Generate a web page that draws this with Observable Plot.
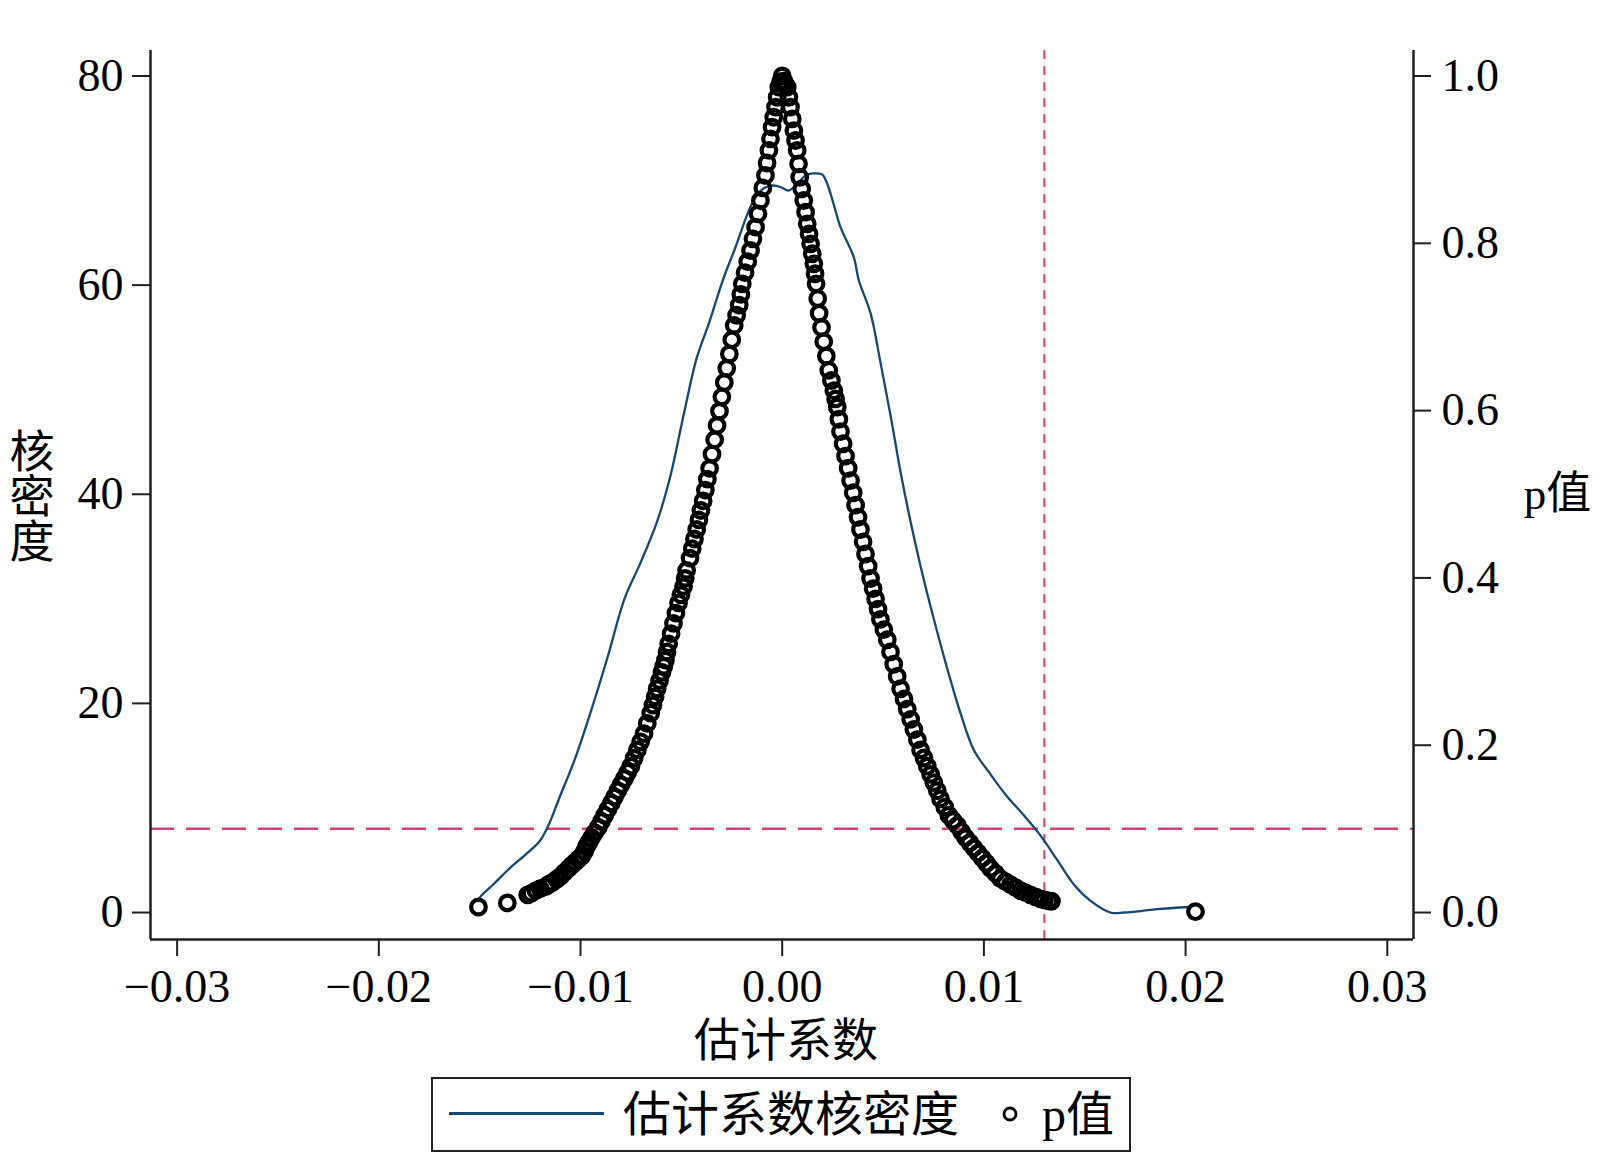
<!DOCTYPE html>
<html>
<head>
<meta charset="utf-8">
<script src="https://cdn.jsdelivr.net/npm/d3@7"></script>
<script src="https://cdn.jsdelivr.net/npm/@observablehq/plot@0.6"></script>
<style>
  body { margin: 0; background: #fff; }
  #chart svg { display: block; }
  #legend {
    position: relative; margin-left: 431px; margin-top: 7px;
    width: 700px; height: 75px; border: 2px solid #222; box-sizing: border-box;
    font-family: 'Liberation Serif', 'Noto Sans CJK SC', serif; font-size: 48px; color: #000;
  }
  #legend .lline { position: absolute; left: 16px; top: 33px; width: 155px; height: 0; border-top: 3px solid #1a476f; }
  #legend .ltext { position: absolute; left: 190px; top: 0; line-height: 71px; white-space: nowrap; }
  #legend .ldot { position: absolute; left: 567px; top: 25px; }
  #legend .ltext2 { position: absolute; left: 609px; top: 0; line-height: 71px; white-space: nowrap; }
</style>
</head>
<body>
<div id="chart"></div>
<div id="legend">
  <span class="lline"></span>
  <span class="ltext">估计系数核密度</span>
  <svg class="ldot" width="20" height="20"><circle cx="10" cy="10" r="6" fill="none" stroke="#000" stroke-width="2.8"></circle></svg>
  <span class="ltext2">p值</span>
</div>
<script>
// ---- axes / tick labels ----
const xTicks = [-0.03, -0.02, -0.01, 0, 0.01, 0.02, 0.03];
const densityTicks = [0, 20, 40, 60, 80];
const pTicks = [0, 0.2, 0.4, 0.6, 0.8, 1.0];
const xDomain = [-0.03132, 0.0313];
const densityDomain = [-2.58, 82.44];
const pScale = 80;            // p = 1.0 sits level with density 80
const pThreshold = 0.1;       // horizontal reference line
const coefMark = 0.013;       // vertical reference line

// ---- kernel density of the estimated coefficient ----
const densityCoef = [-0.01506, -0.01497, -0.01433, -0.01351, -0.01270, -0.01205, -0.01164, -0.01107, -0.01026, -0.00945,
  -0.00864, -0.00782, -0.00701, -0.00620, -0.00555, -0.00489, -0.00424, -0.00360, -0.00295, -0.00232,
  -0.00147, -0.00093, -0.00043, -0.00003, 0.00031, 0.00076, 0.00116, 0.00150, 0.00198, 0.00223,
  0.00254, 0.00289, 0.00355, 0.00380, 0.00438, 0.00487, 0.00537, 0.00587, 0.00636, 0.00686,
  0.00752, 0.00818, 0.00884, 0.00950, 0.01033, 0.01116, 0.01198, 0.01281, 0.01364, 0.01446,
  0.01529, 0.01628, 0.01694, 0.01777, 0.01859, 0.02025];
const densityValue = [1.10, 1.50, 2.68, 4.23, 5.59, 6.77, 8.13, 10.86, 14.77, 19.45,
  24.53, 29.99, 33.51, 37.41, 41.70, 47.56, 53.02, 56.54, 60.44, 63.60,
  67.90, 69.24, 69.53, 69.34, 69.05, 69.72, 70.49, 70.68, 70.58, 69.69,
  67.81, 65.54, 62.67, 60.44, 57.32, 52.64, 47.56, 42.10, 37.41, 33.12,
  28.04, 23.35, 19.06, 15.55, 13.21, 11.07, 9.31, 7.35, 5.01, 2.68,
  1.11, 0.00, 0.00, 0.13, 0.33, 0.53];

// ---- p values: [coefficient, p] ----
const pLeft = [[-0.01506, 0.0066], [-0.01363, 0.0115], [-0.01262, 0.0212], [-0.01245, 0.0230], [-0.01221, 0.0261],
  [-0.01200, 0.0285], [-0.01173, 0.0310], [-0.01158, 0.0335], [-0.01140, 0.0359], [-0.01118, 0.0398],
  [-0.01099, 0.0432], [-0.01080, 0.0480], [-0.01059, 0.0528], [-0.01043, 0.0566], [-0.01026, 0.0603],
  [-0.01010, 0.0640], [-0.00994, 0.0675], [-0.00980, 0.0730], [-0.00970, 0.0790], [-0.00958, 0.0840],
  [-0.00945, 0.0895], [-0.00930, 0.0955], [-0.00912, 0.1017], [-0.00896, 0.1090], [-0.00880, 0.1163],
  [-0.00864, 0.1236], [-0.00847, 0.1310], [-0.00831, 0.1383], [-0.00815, 0.1456], [-0.00799, 0.1529],
  [-0.00782, 0.1602], [-0.00766, 0.1676], [-0.00750, 0.1749], [-0.00734, 0.1846], [-0.00718, 0.1944],
  [-0.00702, 0.2041], [-0.00685, 0.2139], [-0.00669, 0.2261], [-0.00652, 0.2383], [-0.00641, 0.2480],
  [-0.00630, 0.2578], [-0.00620, 0.2675], [-0.00608, 0.2773], [-0.00596, 0.2871], [-0.00587, 0.2944],
  [-0.00579, 0.3017], [-0.00571, 0.3115], [-0.00563, 0.3212], [-0.00551, 0.3334], [-0.00539, 0.3456],
  [-0.00527, 0.3579], [-0.00514, 0.3701], [-0.00502, 0.3799], [-0.00489, 0.3896], [-0.00481, 0.3994],
  [-0.00474, 0.4091], [-0.00457, 0.4237], [-0.00446, 0.4351], [-0.00435, 0.4465], [-0.00424, 0.4579],
  [-0.00413, 0.4693], [-0.00403, 0.4806], [-0.00392, 0.4920], [-0.00381, 0.5050], [-0.00371, 0.5180],
  [-0.00360, 0.5310], [-0.00348, 0.5481], [-0.00335, 0.5652], [-0.00323, 0.5823], [-0.00311, 0.5994],
  [-0.00299, 0.6165], [-0.00287, 0.6336], [-0.00275, 0.6506], [-0.00262, 0.6677], [-0.00250, 0.6848],
  [-0.00238, 0.7019], [-0.00226, 0.7140], [-0.00213, 0.7262], [-0.00205, 0.7389], [-0.00198, 0.7516],
  [-0.00184, 0.7649], [-0.00171, 0.7781], [-0.00157, 0.7914], [-0.00145, 0.8054], [-0.00132, 0.8193],
  [-0.00120, 0.8352], [-0.00108, 0.8512], [-0.00096, 0.8662], [-0.00083, 0.8811], [-0.00075, 0.8960],
  [-0.00066, 0.9110], [-0.00058, 0.9249], [-0.00050, 0.9388], [-0.00042, 0.9507], [-0.00033, 0.9627],
  [-0.00025, 0.9746], [-0.00017, 0.9866], [-0.00008, 0.9933], [0.00000, 1.0000]];
const pRight = [[0.00008, 0.9940], [0.00016, 0.9900], [0.00025, 0.9866], [0.00033, 0.9746], [0.00041, 0.9627],
  [0.00050, 0.9487], [0.00058, 0.9348], [0.00066, 0.9229], [0.00074, 0.9110], [0.00081, 0.8950],
  [0.00087, 0.8790], [0.00097, 0.8651], [0.00107, 0.8512], [0.00116, 0.8372], [0.00124, 0.8233],
  [0.00133, 0.8113], [0.00141, 0.7994], [0.00149, 0.7875], [0.00157, 0.7755], [0.00163, 0.7636],
  [0.00168, 0.7516], [0.00176, 0.7340], [0.00183, 0.7164], [0.00195, 0.6994], [0.00206, 0.6824],
  [0.00219, 0.6653], [0.00231, 0.6482], [0.00244, 0.6360], [0.00256, 0.6238], [0.00265, 0.6140],
  [0.00273, 0.6043], [0.00281, 0.5897], [0.00289, 0.5750], [0.00302, 0.5604], [0.00314, 0.5457],
  [0.00327, 0.5311], [0.00339, 0.5164], [0.00352, 0.5018], [0.00364, 0.4871], [0.00376, 0.4725],
  [0.00388, 0.4579], [0.00401, 0.4432], [0.00413, 0.4286], [0.00426, 0.4140], [0.00438, 0.3993],
  [0.00451, 0.3871], [0.00463, 0.3749], [0.00475, 0.3627], [0.00487, 0.3505], [0.00504, 0.3383],
  [0.00521, 0.3261], [0.00537, 0.3115], [0.00553, 0.2968], [0.00570, 0.2822], [0.00587, 0.2675],
  [0.00604, 0.2554], [0.00620, 0.2432], [0.00637, 0.2310], [0.00653, 0.2188], [0.00670, 0.2066],
  [0.00686, 0.1944], [0.00703, 0.1847], [0.00719, 0.1749], [0.00736, 0.1652], [0.00752, 0.1554],
  [0.00769, 0.1456], [0.00785, 0.1358], [0.00806, 0.1261], [0.00826, 0.1163], [0.00847, 0.1102],
  [0.00868, 0.1041], [0.00889, 0.0968], [0.00909, 0.0895], [0.00930, 0.0834], [0.00950, 0.0773],
  [0.00971, 0.0712], [0.00992, 0.0650], [0.01013, 0.0589], [0.01033, 0.0528], [0.01058, 0.0467],
  [0.01082, 0.0406], [0.01107, 0.0370], [0.01132, 0.0334], [0.01157, 0.0298], [0.01182, 0.0261],
  [0.01206, 0.0237], [0.01231, 0.0212], [0.01256, 0.0188], [0.01281, 0.0163], [0.01300, 0.0150],
  [0.01322, 0.0139], [0.01335, 0.0135], [0.02049, 0.0010]];

// ---- build tables ----
const density = densityCoef.map((c, i) => ({coef: c, d: densityValue[i]}));
const pPoints = pLeft.concat(pRight).map(([c, p]) => ({coef: c, p}));

const W = 1600, H = 1070;
const refColor = "#cc4470";
const axisColor = "#1f1f1f";
const fmtX = d => (d < 0 ? "\u2212" : "") + Math.abs(d).toFixed(2);
const yTitle = "核密度";

const chart = Plot.plot({
  width: W,
  height: H,
  marginLeft: 150,
  marginRight: 187,
  marginTop: 50,
  marginBottom: H - 939,
  x: {domain: xDomain},
  y: {domain: densityDomain},
  style: {
    fontFamily: "'Liberation Serif', 'Noto Sans CJK SC', serif",
    fontSize: "46px",
    color: "#000",
    background: "#fff",
    overflow: "visible"
  },
  marks: [
    Plot.ruleY([pThreshold * pScale], {stroke: refColor, strokeWidth: 2.5, strokeDasharray: "24,12"}),
    Plot.ruleX([coefMark], {stroke: refColor, strokeWidth: 2, strokeDasharray: "9,7"}),
    Plot.line(density, {x: "coef", y: "d", stroke: "#1a476f", strokeWidth: 2.3, curve: "catmull-rom"}),
    Plot.dot(pPoints, {x: "coef", y: d => d.p * pScale, r: 7.3, stroke: "#000", strokeWidth: 4.2, fill: "none"}),
    Plot.ruleX([xDomain[0], xDomain[1]], {stroke: axisColor, strokeWidth: 2.5}),
    Plot.ruleY([densityDomain[0]], {stroke: axisColor, strokeWidth: 2.5}),
    Plot.axisX(xTicks, {anchor: "bottom", tickSize: 17, tickPadding: 13, tickFormat: fmtX,
      fontSize: 46, strokeWidth: 2, stroke: axisColor, label: null}),
    Plot.axisY(densityTicks, {anchor: "left", tickSize: 18, tickPadding: 9, tickFormat: d => String(d),
      fontSize: 46, strokeWidth: 2, stroke: axisColor, label: null}),
    Plot.axisY(pTicks.map(p => p * pScale), {anchor: "right", tickSize: 17, tickPadding: 11,
      tickFormat: d => (d / pScale).toFixed(1), fontSize: 46, strokeWidth: 2, stroke: axisColor, label: null}),
    Plot.text([yTitle], {frameAnchor: "left", dx: -123, fontSize: 45, textAnchor: "middle", lineAnchor: "middle"}),
    Plot.text(["p值"], {frameAnchor: "right", dx: 144, fontSize: 45, textAnchor: "middle", lineAnchor: "middle"}),
    Plot.text(["估计系数"], {frameAnchor: "bottom", dy: 102, dx: 4, fontSize: 46, textAnchor: "middle", lineAnchor: "middle"})
  ]
});

// stack the left-axis title vertically (one text element, upright characters)
d3.select(chart).selectAll("text").filter(function() { return this.textContent === yTitle; })
  .attr("dy", -14)
  .style("writing-mode", "vertical-rl")
  .style("text-orientation", "upright")
  .style("glyph-orientation-vertical", "0");

document.getElementById("chart").appendChild(chart);
</script>
</body>
</html>
